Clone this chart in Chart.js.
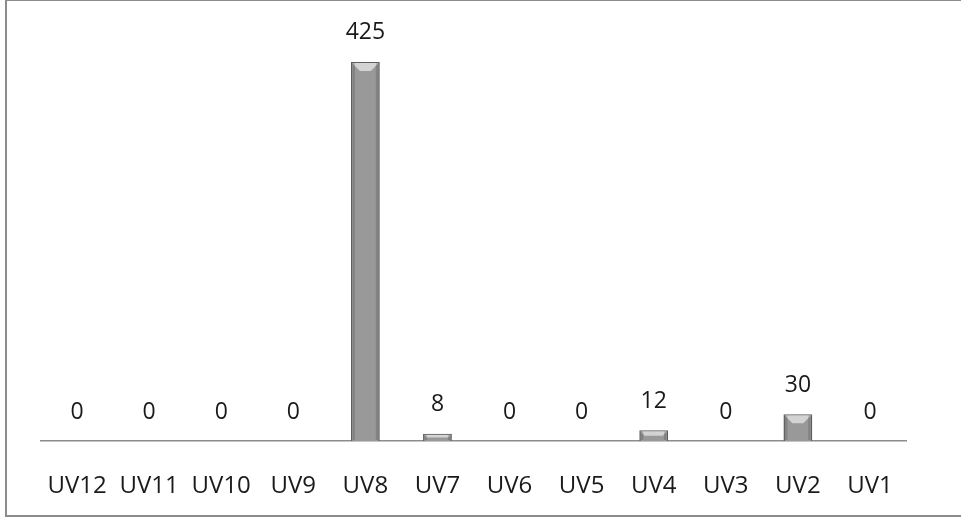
<!DOCTYPE html>
<html>
<head>
<meta charset="utf-8">
<script src="https://cdn.jsdelivr.net/npm/chart.js@4"></script>
<style>
  html, body { margin: 0; padding: 0; background: #fff; overflow: hidden; }
  .frame {
    position: absolute; left: 5px; top: -1px; width: 970px; height: 518px;
    border: 2px solid #8c8c8c; box-sizing: border-box;
  }
  #uvChart { position: absolute; left: 0; top: 0; }
</style>
</head>
<body>
<div class="frame"></div>
<canvas id="uvChart" width="961" height="518"></canvas>
<script>
const categories = ["UV12", "UV11", "UV10", "UV9", "UV8", "UV7", "UV6", "UV5", "UV4", "UV3", "UV2", "UV1"];
const counts = [0, 0, 0, 0, 425, 8, 0, 0, 12, 0, 30, 0];

const labelFont = "'Open Sans', 'Liberation Sans', sans-serif";

// value labels above each bar + bevelled look of the bars
const bevelAndLabels = {
  id: "bevelAndLabels",
  afterDatasetsDraw(chart) {
    const ctx = chart.ctx;
    const meta = chart.getDatasetMeta(0);
    ctx.save();
    meta.data.forEach((bar, i) => {
      const left = bar.x - bar.width / 2;
      const right = bar.x + bar.width / 2;
      const top = bar.y;
      const bottom = bar.base;
      const h = bottom - top;
      if (h > 1) {
        const b = Math.min(9, h / 2, bar.width / 2);
        // top bevel, lighter
        ctx.fillStyle = "rgba(235,235,235,0.7)";
        ctx.beginPath();
        ctx.moveTo(left + 1, top + 1);
        ctx.lineTo(right - 1, top + 1);
        ctx.lineTo(right - b, top + b);
        ctx.lineTo(left + b, top + b);
        ctx.closePath();
        ctx.fill();
        // thin darker side edges
        ctx.fillStyle = "rgba(50,50,50,0.22)";
        ctx.fillRect(left + 1, top + 1, 3, h - 2);
        ctx.fillRect(right - 4, top + 1, 3, h - 2);
      }
      ctx.fillStyle = "#1a1a1a";
      ctx.font = "23px " + labelFont;
      ctx.textAlign = "center";
      ctx.textBaseline = "middle";
      ctx.fillText(String(counts[i]), bar.x, top - 29);
    });
    ctx.restore();
  },
};

const ctx = document.getElementById("uvChart").getContext("2d");

window.uvChart = new Chart(ctx, {
  type: "bar",
  data: {
    labels: categories,
    datasets: [
      {
        data: counts,
        backgroundColor: (c) => {
          const el = c.element;
          if (!el || !Number.isFinite(el.y) || !Number.isFinite(el.base) || el.base - el.y < 1) return "#999";
          const g = c.chart.ctx.createLinearGradient(0, el.y, 0, el.base);
          g.addColorStop(0, "#a9a9a9");
          g.addColorStop(0.5, "#9a9a9a");
          g.addColorStop(1, "#7e7e7e");
          return g;
        },
        borderColor: "#5e5e5e",
        borderWidth: 1.5,
        barPercentage: 0.4,
        categoryPercentage: 1,
      },
    ],
  },
  options: {
    responsive: false,
    animation: false,
    layout: {
      padding: { left: 41, right: 55, top: 20, bottom: 17 },
    },
    scales: {
      y: {
        display: false,
        min: 0,
        max: 472,
      },
      x: {
        grid: { display: false, drawTicks: false },
        border: { color: "#8c8c8c", width: 1.5 },
        ticks: {
          color: "#1a1a1a",
          padding: 31,
          maxRotation: 0,
          autoSkip: false,
          font: { family: labelFont, size: 24 },
        },
        afterFit: (scale) => {
          scale.height = 60;
        },
      },
    },
    plugins: {
      legend: { display: false },
      tooltip: { enabled: false },
    },
  },
  plugins: [bevelAndLabels],
});
</script>
</body>
</html>
